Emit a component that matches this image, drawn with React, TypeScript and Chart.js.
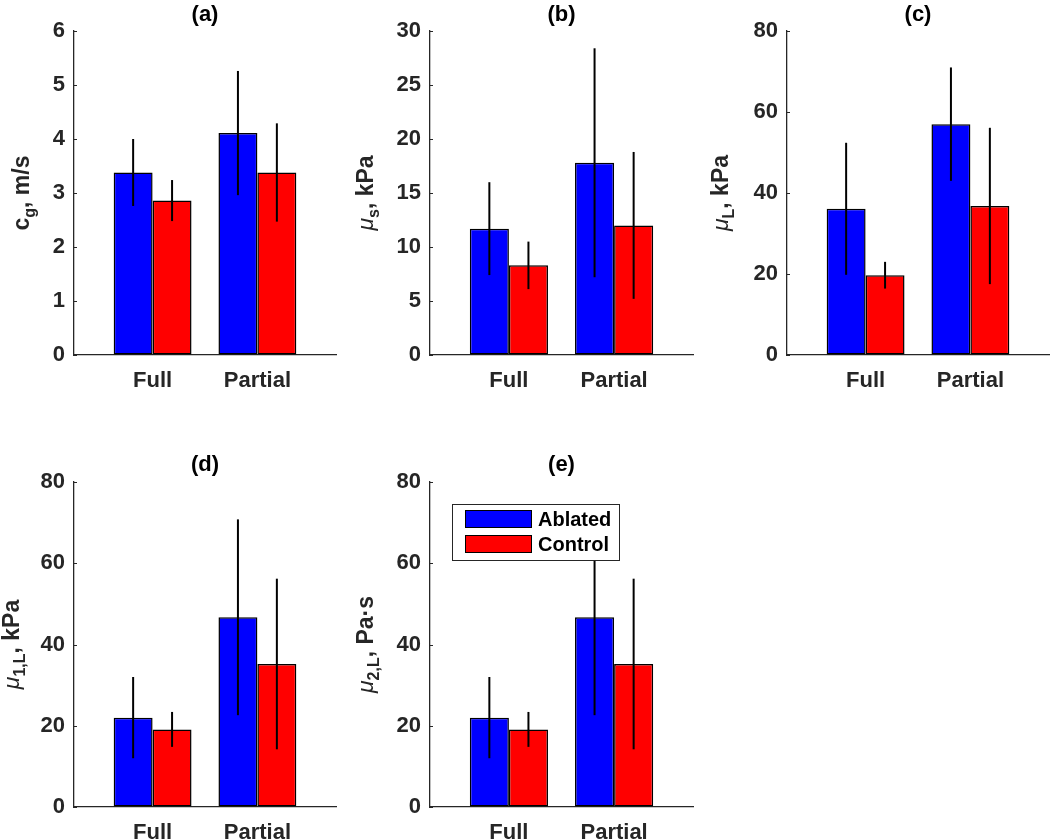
import React, { useEffect, useRef } from 'react';
import { Chart, registerables } from 'chart.js';

Chart.register(...registerables);

// ---------- data ----------
const categories = ['Full', 'Partial'];
const categoryPositions = [1, 2];
const seriesNames = ['Ablated', 'Control'];
const seriesColors = ['#0000FF', '#FF0000'];

// (a) c_g, m/s
const cgAblated = [3.38, 4.11];
const cgAblatedErr = [0.62, 1.15];
const cgControl = [2.86, 3.38];
const cgControlErr = [0.38, 0.91];
const cgTicks = [0, 1, 2, 3, 4, 5, 6];

// (b) mu_s, kPa
const muSAblated = [11.7, 17.8];
const muSAblatedErr = [4.3, 10.6];
const muSControl = [8.3, 12.0];
const muSControlErr = [2.2, 6.8];
const muSTicks = [0, 5, 10, 15, 20, 25, 30];

// (c) mu_L, kPa
const muLAblated = [36.1, 57.0];
const muLAblatedErr = [16.3, 14.0];
const muLControl = [19.7, 36.8];
const muLControlErr = [3.3, 19.3];
const muLTicks = [0, 20, 40, 60, 80];

// (d) mu_1,L, kPa
const mu1LAblated = [22.0, 46.7];
const mu1LAblatedErr = [10.0, 24.1];
const mu1LControl = [19.1, 35.2];
const mu1LControlErr = [4.3, 21.0];
const mu1LTicks = [0, 20, 40, 60, 80];

// (e) mu_2,L, Pa·s
const mu2LAblated = [22.0, 46.7];
const mu2LAblatedErr = [10.0, 24.1];
const mu2LControl = [19.1, 35.2];
const mu2LControlErr = [4.3, 21.0];
const mu2LTicks = [0, 20, 40, 60, 80];

const panelTitles = ['(a)', '(b)', '(c)', '(d)', '(e)'];
const xRange = [0.25, 2.75];

// ---------- styling ----------
const FONT = "'Liberation Sans', Arial, Helvetica, sans-serif";
const TEXT = '#262626';
const AXIS = '#262626';

type Seg = { t: string; font: string; dy: number };
const mainF = `bold 23px ${FONT}`;
const subF = `bold 16px ${FONT}`;
const muF = `italic 23px ${FONT}`;

const panels = [
  {
    title: panelTitles[0], ablated: cgAblated, ablatedErr: cgAblatedErr, control: cgControl, controlErr: cgControlErr,
    ticks: cgTicks,
    label: [{ t: 'c', font: mainF, dy: 0 }, { t: 'g', font: subF, dy: 6 }, { t: ', m/s', font: mainF, dy: 0 }] as Seg[],
    left: 0, top: 0, w: 350, h: 400, areaLeft: 74, areaTop: 31, areaW: 262, areaH: 324, titleY: 15, labelX: 29, legend: false,
  },
  {
    title: panelTitles[1], ablated: muSAblated, ablatedErr: muSAblatedErr, control: muSControl, controlErr: muSControlErr,
    ticks: muSTicks,
    label: [{ t: 'μ', font: muF, dy: 0 }, { t: 's', font: subF, dy: 6 }, { t: ', kPa', font: mainF, dy: 0 }] as Seg[],
    left: 350, top: 0, w: 350, h: 400, areaLeft: 80, areaTop: 31, areaW: 263, areaH: 324, titleY: 15, labelX: 23, legend: false,
  },
  {
    title: panelTitles[2], ablated: muLAblated, ablatedErr: muLAblatedErr, control: muLControl, controlErr: muLControlErr,
    ticks: muLTicks,
    label: [{ t: 'μ', font: muF, dy: 0 }, { t: 'L', font: subF, dy: 6 }, { t: ', kPa', font: mainF, dy: 0 }] as Seg[],
    left: 700, top: 0, w: 350, h: 400, areaLeft: 87, areaTop: 31, areaW: 262, areaH: 324, titleY: 15, labelX: 28, legend: false,
  },
  {
    title: panelTitles[3], ablated: mu1LAblated, ablatedErr: mu1LAblatedErr, control: mu1LControl, controlErr: mu1LControlErr,
    ticks: mu1LTicks,
    label: [{ t: 'μ', font: muF, dy: 0 }, { t: '1,L', font: subF, dy: 6 }, { t: ', kPa', font: mainF, dy: 0 }] as Seg[],
    left: 0, top: 440, w: 350, h: 399, areaLeft: 74, areaTop: 42, areaW: 262, areaH: 325, titleY: 25, labelX: 19, legend: false,
  },
  {
    title: panelTitles[4], ablated: mu2LAblated, ablatedErr: mu2LAblatedErr, control: mu2LControl, controlErr: mu2LControlErr,
    ticks: mu2LTicks,
    label: [{ t: 'μ', font: muF, dy: 0 }, { t: '2,L', font: subF, dy: 6 }, { t: ', Pa·s', font: mainF, dy: 0 }] as Seg[],
    left: 350, top: 440, w: 350, h: 399, areaLeft: 80, areaTop: 42, areaW: 263, areaH: 325, titleY: 25, labelX: 23, legend: true,
  },
];

type Panel = typeof panels[number];

function buildChart(canvas: HTMLCanvasElement, p: Panel) {
  const errorBars = {
    id: 'errorBars',
    afterDatasetsDraw(chart: any) {
      const ctx = chart.ctx;
      const ys = chart.scales.y;
      chart.data.datasets.forEach((ds: any, i: number) => {
        const meta = chart.getDatasetMeta(i);
        meta.data.forEach((bar: any, j: number) => {
          const v = ds.data[j].y;
          const e = ds.errors[j];
          ctx.save();
          ctx.strokeStyle = '#000';
          ctx.lineWidth = 2;
          ctx.beginPath();
          ctx.moveTo(bar.x, ys.getPixelForValue(v + e));
          ctx.lineTo(bar.x, ys.getPixelForValue(v - e));
          ctx.stroke();
          ctx.restore();
        });
      });
    },
  };

  const decorations = {
    id: 'decorations',
    afterDraw(chart: any) {
      const ctx = chart.ctx;
      const area = chart.chartArea;
      const ys = chart.scales.y;
      ctx.save();
      // inward y ticks
      ctx.strokeStyle = AXIS;
      ctx.lineWidth = 1;
      ys.ticks.forEach((t: any) => {
        const y = Math.round(ys.getPixelForValue(t.value)) + 0.5;
        ctx.beginPath();
        ctx.moveTo(area.left, y);
        ctx.lineTo(area.left + 3, y);
        ctx.stroke();
      });
      // title
      ctx.fillStyle = '#000';
      ctx.font = `bold 22px ${FONT}`;
      ctx.textAlign = 'center';
      ctx.textBaseline = 'middle';
      ctx.fillText(p.title, (area.left + area.right) / 2, p.titleY);
      // y label with subscripts
      ctx.translate(p.labelX, (area.top + area.bottom) / 2);
      ctx.rotate(-Math.PI / 2);
      ctx.textAlign = 'left';
      ctx.textBaseline = 'alphabetic';
      ctx.fillStyle = TEXT;
      let total = 0;
      p.label.forEach((s) => {
        ctx.font = s.font;
        total += ctx.measureText(s.t).width;
      });
      let x = -total / 2;
      p.label.forEach((s) => {
        ctx.font = s.font;
        ctx.fillText(s.t, x, s.dy);
        x += ctx.measureText(s.t).width;
      });
      ctx.restore();

      if (p.legend) {
        const bx = area.left + 22;
        const by = area.top + 22;
        const bw = 167;
        const bh = 56;
        ctx.save();
        ctx.fillStyle = '#fff';
        ctx.fillRect(bx, by, bw, bh);
        ctx.strokeStyle = AXIS;
        ctx.lineWidth = 1;
        ctx.strokeRect(bx + 0.5, by + 0.5, bw, bh);
        chart.data.datasets.forEach((ds: any, i: number) => {
          const cy = by + 15 + i * 25;
          ctx.fillStyle = ds.backgroundColor;
          ctx.fillRect(bx + 13, cy - 9, 67, 18);
          ctx.strokeStyle = '#000';
          ctx.strokeRect(bx + 13.5, cy - 8.5, 66, 17);
          ctx.fillStyle = '#000';
          ctx.font = `bold 20px ${FONT}`;
          ctx.textAlign = 'left';
          ctx.textBaseline = 'middle';
          ctx.fillText(ds.label, bx + 86, cy + 1);
        });
        ctx.restore();
      }
    },
  };

  const tickFont = { family: FONT, size: 22, weight: 'bold' as const };

  return new Chart(canvas, {
    type: 'bar',
    data: {
      datasets: [
        {
          label: seriesNames[0],
          data: categoryPositions.map((x, i) => ({ x, y: p.ablated[i] })),
          errors: p.ablatedErr,
          backgroundColor: seriesColors[0],
          borderColor: '#000',
          borderWidth: 1.5,
          borderSkipped: false,
        } as any,
        {
          label: seriesNames[1],
          data: categoryPositions.map((x, i) => ({ x, y: p.control[i] })),
          errors: p.controlErr,
          backgroundColor: seriesColors[1],
          borderColor: '#000',
          borderWidth: 1.5,
          borderSkipped: false,
        } as any,
      ],
    },
    options: {
      responsive: false,
      animation: false,
      devicePixelRatio: 1,
      layout: { padding: { top: p.areaTop, right: p.w - p.areaLeft - p.areaW, left: 0, bottom: 0 } },
      datasets: { bar: { categoryPercentage: 0.743, barPercentage: 1 } },
      plugins: { legend: { display: false }, tooltip: { enabled: false }, title: { display: false } },
      scales: {
        x: {
          type: 'linear',
          offset: false,
          bounds: 'data',
          grace: 0,
          min: xRange[0],
          max: xRange[1],
          afterBuildTicks: (s: any) => {
            s.ticks = categoryPositions.map((v) => ({ value: v }));
          },
          afterFit: (s: any) => {
            s.height = p.h - p.areaTop - p.areaH;
          },
          ticks: {
            autoSkip: false,
            maxRotation: 0,
            padding: 13,
            color: TEXT,
            font: tickFont,
            callback: (v: any) => categories[categoryPositions.indexOf(Number(v))] ?? '',
          },
          grid: { display: true, offset: false, drawOnChartArea: false, drawTicks: false },
          border: { display: true, color: AXIS, width: 1.3 },
        },
        y: {
          type: 'linear',
          min: p.ticks[0],
          max: p.ticks[p.ticks.length - 1],
          afterBuildTicks: (s: any) => {
            s.ticks = p.ticks.map((v) => ({ value: v }));
          },
          afterFit: (s: any) => {
            s.width = p.areaLeft;
          },
          ticks: { padding: 9, color: TEXT, font: tickFont },
          grid: { display: true, drawOnChartArea: false, drawTicks: false },
          border: { display: true, color: AXIS, width: 1.3 },
        },
      },
    } as any,
    plugins: [errorBars, decorations],
  });
}

function PanelChart({ p }: { p: Panel }) {
  const ref = useRef<HTMLCanvasElement | null>(null);
  useEffect(() => {
    if (!ref.current) return;
    const chart = buildChart(ref.current, p);
    return () => chart.destroy();
  }, [p]);
  return (
    <canvas
      ref={ref}
      width={p.w}
      height={p.h}
      style={{ position: 'absolute', left: p.left, top: p.top, width: p.w, height: p.h }}
    />
  );
}

export default function App() {
  return (
    <div
      style={{
        position: 'fixed',
        left: 0,
        top: 0,
        width: 1050,
        height: 839,
        background: '#fff',
        overflow: 'hidden',
      }}
    >
      {panels.map((p, i) => (
        <PanelChart key={i} p={p} />
      ))}
    </div>
  );
}
